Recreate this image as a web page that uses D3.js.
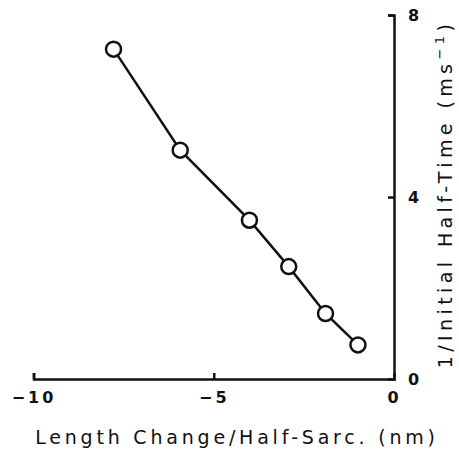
<!DOCTYPE html>
<html lang="en">
  <head>
    <meta charset="UTF-8" />
    <title>half-time</title>
    <script src="https://cdn.jsdelivr.net/npm/d3@7"></script>
    <style>
      body { margin: 0; background: #fff; }
      text { font-family: "DejaVu Sans", Arial, sans-serif; fill: #111; }
    </style>
  </head>
  <body>
    <svg width="459" height="450"></svg>
  </body>

  <script>
    // data
    var lengthChange = [-7.78, -5.93, -4.01, -2.92, -1.9, -1.0];
    var rate = [7.25, 5.03, 3.49, 2.47, 1.44, 0.75];
    var xTicks = [-10, -5, 0];
    var yTicks = [0, 4, 8];

    var svg = d3.select('svg');

    // 坐标比例尺
    var x = d3.scaleLinear().domain([-10, 0]).range([33.5, 394]);
    var y = d3.scaleLinear().domain([0, 8]).range([379, 15]);

    var ink = '#111';

    // x axis: ticks pointing up
    var axisX = d3.axisBottom(x).tickValues(xTicks).tickSize(-6).tickPadding(13).tickFormat(d3.format('d'));
    var gx = svg.append('g').attr('transform', 'translate(0,' + y(0) + ')').call(axisX);

    // y axis on the right, ticks pointing left
    var axisY = d3.axisRight(y).tickValues(yTicks).tickSize(-6).tickPadding(14);
    var gy = svg.append('g').attr('transform', 'translate(' + x(0) + ',0)').call(axisY);

    [gx, gy].forEach(function (g) {
      g.select('.domain').attr('stroke', ink).attr('stroke-width', 2.5);
      g.selectAll('.tick line').attr('stroke', ink).attr('stroke-width', 2.5);
      g.selectAll('.tick text')
        .attr('fill', ink)
        .style('font-size', '16px')
        .style('font-weight', 'bold')
        .style('font-family', '"DejaVu Sans", Arial, sans-serif');
    });
    // minus sign with a gap like the figure
    gx.selectAll('.tick text').text(function (d) { return d < 0 ? '\u2212' + Math.abs(d) : d; })
      .attr('letter-spacing', 3);
    gy.selectAll('.tick text').attr('dy', '0.35em');
    gx.selectAll('.tick').filter(function (d) { return d === 0; }).select('line').remove();
    gy.selectAll('.tick').filter(function (d) { return d === 0; }).select('line').remove();

    var pts = d3.zip(lengthChange, rate);

    var line = d3.line().x(function (d) { return x(d[0]); }).y(function (d) { return y(d[1]); });
    svg.append('path').datum(pts)
      .attr('d', line)
      .attr('fill', 'none')
      .attr('stroke', ink)
      .attr('stroke-width', 2.5);

    svg.selectAll('circle').data(pts).enter().append('circle')
      .attr('cx', function (d) { return x(d[0]); })
      .attr('cy', function (d) { return y(d[1]); })
      .attr('r', 7.5)
      .attr('fill', '#fff')
      .attr('stroke', ink)
      .attr('stroke-width', 2.5);

    // axis titles
    svg.append('text')
      .attr('x', 237)
      .attr('y', 444)
      .attr('text-anchor', 'middle')
      .attr('letter-spacing', 3.8)
      .style('font-size', '19px')
      .text('Length Change/Half-Sarc. (nm)');

    var yt = svg.append('text')
      .attr('transform', 'translate(452,194) rotate(-90)')
      .attr('text-anchor', 'middle')
      .attr('letter-spacing', 4.4)
      .style('font-size', '19px');
    yt.append('tspan').text('1/Initial Half-Time (ms');
    yt.append('tspan').attr('dy', -8).style('font-size', '13px').text('\u22121');
    yt.append('tspan').attr('dy', 8).text(')');
  </script>
</html>
